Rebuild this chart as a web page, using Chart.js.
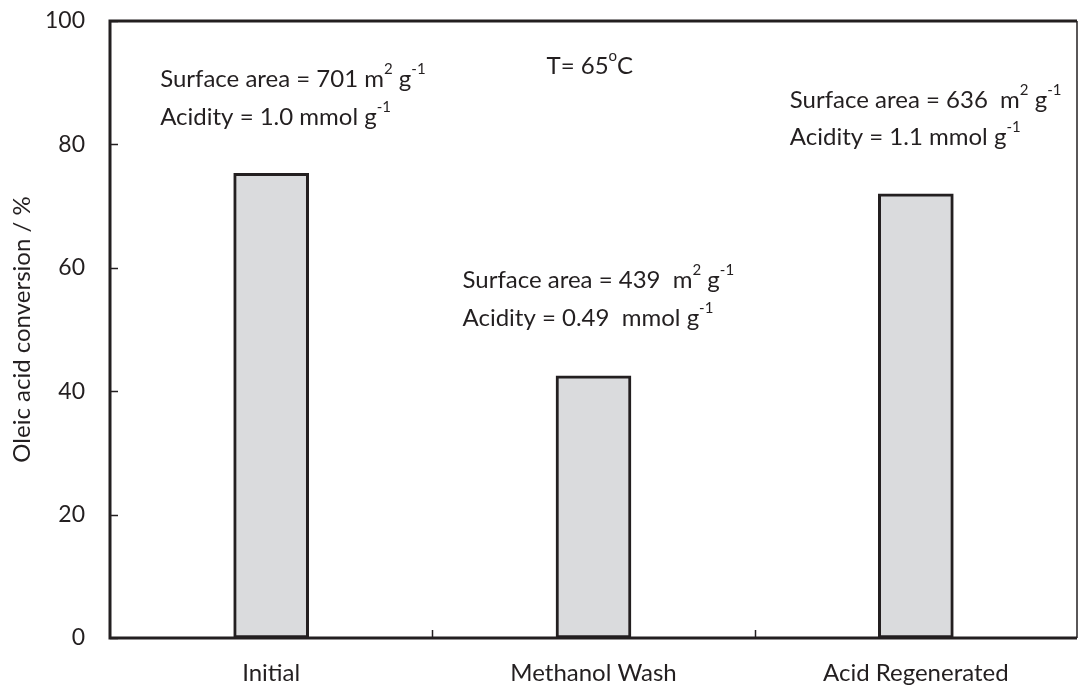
<!DOCTYPE html>
<html>
<head>
<meta charset="utf-8">
<script src="https://cdn.jsdelivr.net/npm/chart.js@4"></script>
<style>
  html, body { margin: 0; padding: 0; background: #fff; }
  #wrap { width: 1080px; height: 696px; }
</style>
</head>
<body>
<div id="wrap"><canvas id="conversionChart"></canvas></div>
<script>
// Chart data
const categories = ['Initial', 'Methanol Wash', 'Acid Regenerated'];
const conversion = [75.3, 42.5, 72.0];
const yTicks = [0, 20, 40, 60, 80, 100];

// Annotation text: [category index, y value, segments]; segments with sup:true are superscripts
const notes = [
    [0, 90.6, [{t: 'Surface area = 701 m'}, {t: '2', sup: true}, {t: ' g'}, {t: '-1', sup: true}]],
    [0, 84.4, [{t: 'Acidity = 1.0 mmol g'}, {t: '-1', sup: true}]],
    [1, 58.0, [{t: 'Surface area = 439  m'}, {t: '2', sup: true}, {t: ' g'}, {t: '-1', sup: true}]],
    [1, 51.8, [{t: 'Acidity = 0.49  mmol g'}, {t: '-1', sup: true}]],
    [2, 87.2, [{t: 'Surface area = 636  m'}, {t: '2', sup: true}, {t: ' g'}, {t: '-1', sup: true}]],
    [2, 81.2, [{t: 'Acidity = 1.1 mmol g'}, {t: '-1', sup: true}]],
    [1, 92.7, [{t: 'T= 65'}, {t: 'o', sup: true}, {t: 'C'}]]
];
// left edge of each note, offset from category centre (px)
const noteOffsets = [-111, -111, -131, -131, -126, -126, -47];

const FONT = 'Lato, "Open Sans", sans-serif';
const INK = '#231f20';

const framePlugin = {
    id: 'frame',
    afterDatasetsDraw(chart) {
        const ctx = chart.ctx;
        const a = chart.chartArea;
        const x = chart.scales.x, y = chart.scales.y;
        ctx.save();
        ctx.strokeStyle = INK;
        // inward ticks on the y axis
        ctx.lineWidth = 1.5;
        yTicks.forEach(v => {
            const py = Math.round(y.getPixelForValue(v)) + 0.5;
            ctx.beginPath();
            ctx.moveTo(a.left, py);
            ctx.lineTo(a.left + 8, py);
            ctx.stroke();
        });
        // ticks between categories on the x axis
        for (let i = 1; i < categories.length; i++) {
            const px = Math.round((x.getPixelForValue(i - 1) + x.getPixelForValue(i)) / 2) + 0.5;
            ctx.beginPath();
            ctx.moveTo(px, a.bottom);
            ctx.lineTo(px, a.bottom - 8);
            ctx.stroke();
        }
        // right border (thin)
        ctx.lineWidth = 1.5;
        ctx.beginPath();
        ctx.moveTo(a.right, a.top);
        ctx.lineTo(a.right, a.bottom);
        ctx.stroke();
        // left, top, bottom (thick)
        ctx.lineWidth = 3;
        ctx.beginPath();
        ctx.moveTo(a.right, a.top);
        ctx.lineTo(a.left, a.top);
        ctx.lineTo(a.left, a.bottom);
        ctx.lineTo(a.right, a.bottom);
        ctx.stroke();

        // annotation texts
        ctx.fillStyle = INK;
        ctx.textBaseline = 'middle';
        notes.forEach((n, k) => {
            let px = x.getPixelForValue(n[0]) + noteOffsets[k];
            const py = y.getPixelForValue(n[1]);
            n[2].forEach(seg => {
                ctx.font = (seg.sup ? '15px ' : '24px ') + FONT;
                ctx.fillText(seg.t, px, seg.sup ? py - 10 : py);
                px += ctx.measureText(seg.t).width;
            });
        });
        ctx.restore();
    }
};

const ctx = document.getElementById('conversionChart').getContext('2d');
const conversionChart = new Chart(ctx, {
    type: 'bar',
    data: {
        labels: categories,
        datasets: [{
            label: 'Oleic acid conversion',
            data: conversion,
            backgroundColor: '#dadbdd',
            borderColor: INK,
            borderWidth: 3,
            borderSkipped: false,
            barThickness: 75,
            categoryPercentage: 1.0
        }]
    },
    options: {
        responsive: true,
        maintainAspectRatio: false,
        animation: false,
        layout: { padding: { top: 21, right: 3, left: 0, bottom: 0 } },
        plugins: {
            legend: { display: false },
            tooltip: { enabled: false }
        },
        scales: {
            x: {
                offset: true,
                border: { display: false },
                grid: { display: false },
                ticks: {
                    color: INK,
                    padding: 13,
                    font: { family: FONT, size: 24 }
                },
                afterFit: function(scale) { scale.height = 58; }
            },
            y: {
                min: 0,
                max: 100,
                border: { display: false },
                grid: { display: false },
                ticks: {
                    stepSize: 20,
                    color: INK,
                    padding: 17,
                    font: { family: FONT, size: 23 }
                },
                title: {
                    display: true,
                    text: 'Oleic acid conversion / %',
                    color: INK,
                    padding: { top: 8, bottom: 0 },
                    font: { family: FONT, size: 24 }
                },
                afterFit: function(scale) {
                    scale.width = 110;
                    scale.paddingTop = 0;
                    scale.paddingBottom = 0;
                }
            }
        }
    },
    plugins: [framePlugin]
});
</script>
</body>
</html>
